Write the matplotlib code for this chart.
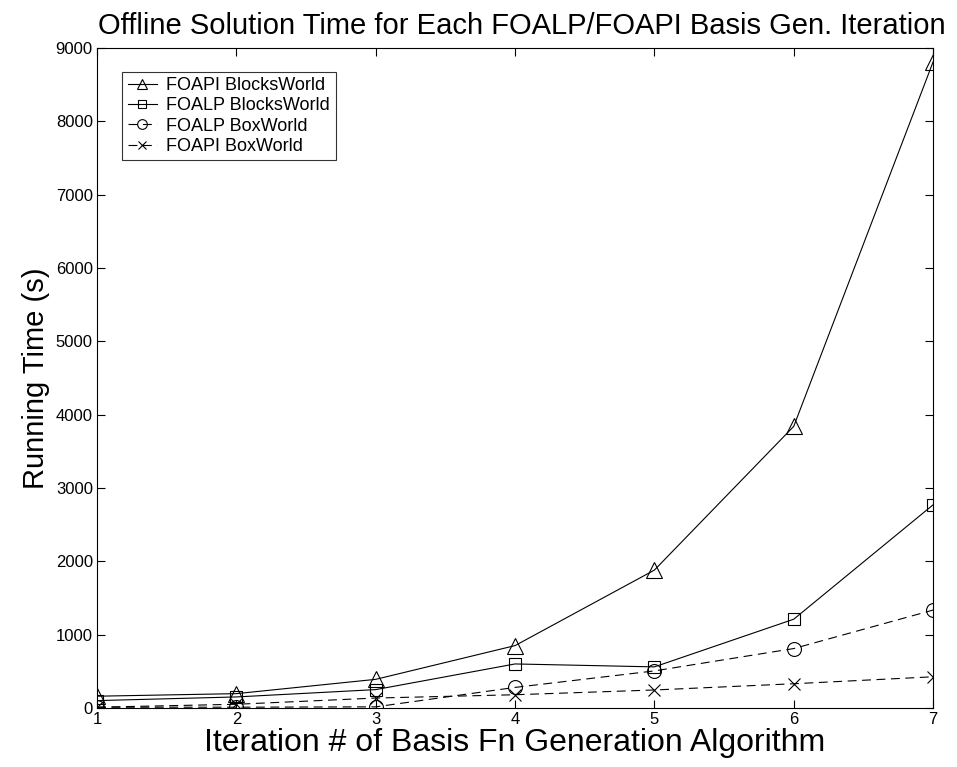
import matplotlib.pyplot as plt

plt.rcParams['font.family'] = ['Liberation Sans', 'DejaVu Sans']

# data
iterations = [1, 2, 3, 4, 5, 6, 7]
foapi_blocks = [160, 195, 390, 850, 1880, 3840, 8810]
foalp_blocks = [100, 150, 250, 600, 560, 1210, 2770]
foalp_box = [10, 10, 15, 280, 505, 810, 1335]
foapi_box = [10, 50, 135, 180, 245, 330, 425]

fig = plt.figure(figsize=(9.57, 7.67), dpi=100)
ax = fig.add_axes([0.1014, 0.077, 0.8736, 0.8604])

ax.plot(iterations, foapi_blocks, 'k-', marker='^', mfc='none', ms=11, lw=0.8, mew=0.8,
        label='FOAPI BlocksWorld')
ax.plot(iterations, foalp_blocks, 'k-', marker='s', mfc='none', ms=8, lw=0.8, mew=0.8,
        label='FOALP BlocksWorld')
ax.plot(iterations, foalp_box, 'k--', marker='o', mfc='none', ms=10, lw=0.8, mew=0.8,
        dashes=(8, 5), label='FOALP BoxWorld')
ax.plot(iterations, foapi_box, 'k--', marker='x', ms=8, lw=0.8, mew=0.8,
        dashes=(8, 5), label='FOAPI BoxWorld')

ax.set_xlim(1, 7)
ax.set_ylim(0, 9000)
ax.set_xticks(iterations)
ax.set_yticks(range(0, 9001, 1000))
ax.tick_params(direction='in', length=6, labelsize=12, top=True, right=True, pad=3)
ax.set_xlabel('Iteration # of Basis Fn Generation Algorithm', fontsize=23, labelpad=1)
ax.set_ylabel('Running Time (s)', fontsize=21, labelpad=4)
ax.set_title('Offline Solution Time for Each FOALP/FOAPI Basis Gen. Iteration',
             fontsize=21, pad=10, x=0.508)

leg = ax.legend(loc='upper left', bbox_to_anchor=(0.030, 0.964), fontsize=13,
                frameon=True, fancybox=False, edgecolor='k', handlelength=1.65,
                markerscale=0.7, borderpad=0.3, labelspacing=0.18,
                handletextpad=0.5, borderaxespad=0)
leg.get_frame().set_linewidth(0.8)

plt.savefig('out.png', dpi=100)
